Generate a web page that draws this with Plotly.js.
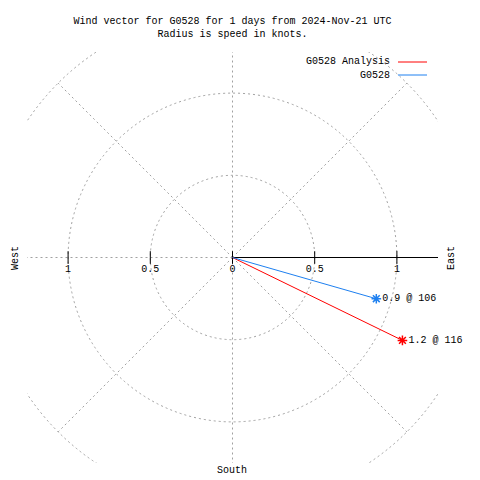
<!DOCTYPE html>
<html>
<head>
<meta charset="utf-8">
<script src="https://cdn.plot.ly/plotly-3.0.1.min.js"></script>
<style>html,body{margin:0;padding:0;background:#fff}#chart{width:480px;height:480px}</style>
</head>
<body>
<div id="chart"></div>
<script>
// ---- data ----
const gridRadii = [0.5, 1, 1.5];
const gridAngles = [0, 45, 90, 135, 180, 225, 270, 315];
const tickVals = [-1, -0.5, 0, 0.5, 1, 1.5];
const tickText = ['1', '0.5', '0', '0.5', '1', '1.5'];
const seriesNames = ['G0528 Analysis', 'G0528'];
const seriesColors = ['#ff0000', '#1e80f0'];
const speeds = [1.15, 0.91];        // knots (radius)
const directions = [116, 106];      // degrees clockwise from north
const vectorLabels = ['1.2 @ 116', '0.9 @ 106'];
const compassLabels = ['West', 'East', 'South'];
const titleLines = ['Wind vector for G0528 for 1 days from 2024-Nov-21 UTC', 'Radius is speed in knots.'];

// ---- layout constants ----
const W = 480, H = 480;
const M = {l: 27, r: 42, t: 52, b: 17};
const PW = W - M.l - M.r, PH = H - M.t - M.b;
const RMAX = 1.25;
const FONT = 'Liberation Mono, DejaVu Sans Mono, monospace';
const GRID = '#a0a0a0';
const px2x = p => (p - M.l) / PW;
const py2y = p => 1 - (p - M.t) / PH;
const rad = d => d * Math.PI / 180;

const traces = [];
const shapes = [];
const annotations = [];

// grid circles
gridRadii.forEach(r => shapes.push({
  type: 'circle', xref: 'x', yref: 'y', x0: -r, y0: -r, x1: r, y1: r,
  line: {color: GRID, width: 1, dash: '2px,3px'}, layer: 'below'
}));
// radial grid lines
const rOuter = gridRadii[gridRadii.length - 1];
gridAngles.forEach(a => shapes.push({
  type: 'line', xref: 'x', yref: 'y', x0: 0, y0: 0,
  x1: rOuter * Math.sin(rad(a)), y1: rOuter * Math.cos(rad(a)),
  line: {color: GRID, width: 1, dash: '2px,3px'}, layer: 'below'
}));
// solid radial axis (east)
shapes.push({type: 'line', xref: 'x', yref: 'y', x0: 0, y0: 0, x1: RMAX, y1: 0,
  line: {color: '#000', width: 1}, layer: 'below'});

// tick marks + labels
traces.push({
  type: 'scatter', mode: 'markers+text', x: tickVals, y: tickVals.map(() => 0),
  text: tickText, textposition: 'bottom center',
  textfont: {family: FONT, size: 10, color: '#000'},
  marker: {symbol: 'line-ns-open', size: 9, color: '#000', line: {color: '#000', width: 1}},
  cliponaxis: false, hoverinfo: 'skip', showlegend: false
});

// vectors
speeds.forEach((s, i) => {
  const x = s * Math.sin(rad(directions[i]));
  const y = s * Math.cos(rad(directions[i]));
  traces.push({
    type: 'scatter', mode: 'lines', x: [0, x], y: [0, y],
    line: {color: seriesColors[i], width: 1}, name: seriesNames[i], showlegend: false
  });
  traces.push({
    type: 'scatter', mode: 'markers+text', x: [x], y: [y], text: [vectorLabels[i]],
    textposition: 'middle right', textfont: {family: FONT, size: 10, color: '#000'},
    marker: {symbol: 'asterisk-open', size: 8, color: seriesColors[i], line: {color: seriesColors[i], width: 1.5}},
    cliponaxis: false, showlegend: false
  });
});

// custom legend (text, then line to the right)
seriesNames.forEach((n, i) => {
  const yp = 62 + 13 * i;
  annotations.push({xref: 'paper', yref: 'paper', x: px2x(392), y: py2y(yp), text: n,
    showarrow: false, xanchor: 'right', yanchor: 'middle',
    font: {family: FONT, size: 10, color: '#000'}});
  shapes.push({type: 'line', xref: 'paper', yref: 'paper', x0: px2x(398), x1: px2x(427),
    y0: py2y(yp), y1: py2y(yp), line: {color: seriesColors[i], width: 1}});
});

// compass labels
annotations.push({xref: 'paper', yref: 'paper', x: px2x(15), y: py2y(258), text: compassLabels[0],
  textangle: -90, showarrow: false, xanchor: 'center', yanchor: 'middle', font: {family: FONT, size: 10, color: '#000'}});
annotations.push({xref: 'paper', yref: 'paper', x: px2x(451), y: py2y(258), text: compassLabels[1],
  textangle: -90, showarrow: false, xanchor: 'center', yanchor: 'middle', font: {family: FONT, size: 10, color: '#000'}});
annotations.push({xref: 'paper', yref: 'paper', x: px2x(232), y: py2y(470), text: compassLabels[2],
  showarrow: false, xanchor: 'center', yanchor: 'middle', font: {family: FONT, size: 10, color: '#000'}});

const axisCommon = {range: [-RMAX, RMAX], showgrid: false, zeroline: false, showticklabels: false,
  ticks: '', showline: false, fixedrange: true};

const layout = {
  width: W, height: H, margin: M, paper_bgcolor: '#fff', plot_bgcolor: '#fff',
  showlegend: false,
  title: {text: titleLines.join('<br>'), font: {family: FONT, size: 10, color: '#000'},
    xref: 'paper', x: 0.5, xanchor: 'center', yref: 'container', y: 1 - 24 / H, yanchor: 'top'},
  xaxis: Object.assign({}, axisCommon),
  yaxis: Object.assign({}, axisCommon),
  shapes: shapes, annotations: annotations
};

Plotly.newPlot('chart', traces, layout, {staticPlot: true, displayModeBar: false});
</script>
</body>
</html>
